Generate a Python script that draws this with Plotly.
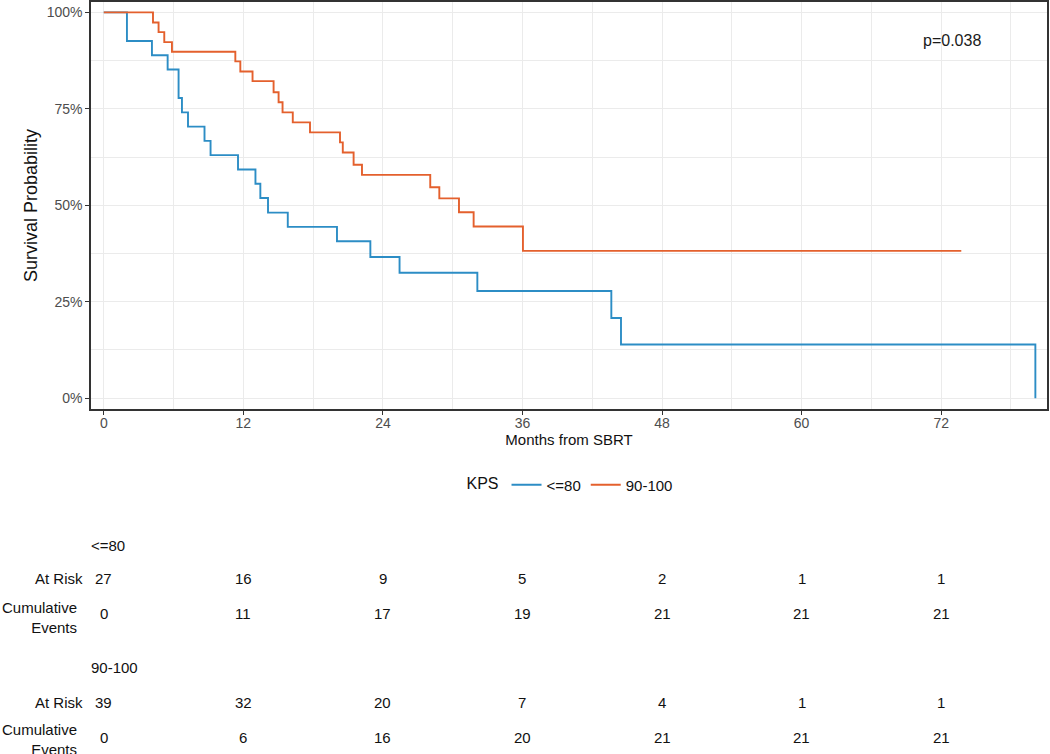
import plotly.graph_objects as go

# ---------------- data ----------------
groups = ["<=80", "90-100"]
legend_title = "KPS"

time_le80 = [0, 1.99, 4.14, 5.49, 6.43, 6.72, 7.24, 8.66, 9.18, 11.54, 13.04, 13.46,
             14.12, 15.82, 20.05, 22.92, 25.43, 32.12, 43.64, 44.47, 80.1]
surv_le80 = [1.0, 0.926, 0.889, 0.852, 0.778, 0.741, 0.704, 0.667, 0.630, 0.593, 0.556, 0.519,
             0.481, 0.444, 0.407, 0.366, 0.325, 0.278, 0.208, 0.139, 0.0]

time_90 = [0, 4.23, 4.71, 5.20, 5.86, 11.31, 11.74, 12.79, 14.60, 15.03, 15.37, 16.25,
           17.73, 20.31, 20.55, 21.48, 22.20, 28.07, 28.85, 30.54, 31.80, 36.04, 73.73]
surv_90 = [1.0, 0.974, 0.949, 0.923, 0.898, 0.873, 0.847, 0.822, 0.793, 0.767, 0.741, 0.715,
           0.689, 0.663, 0.637, 0.605, 0.579, 0.547, 0.518, 0.482, 0.445, 0.382, 0.382]

p_text = "p=0.038"

table_times = [0, 12, 24, 36, 48, 60, 72]
at_risk_le80 = [27, 16, 9, 5, 2, 1, 1]
cum_events_le80 = [0, 11, 17, 19, 21, 21, 21]
at_risk_90 = [39, 32, 20, 7, 4, 1, 1]
cum_events_90 = [0, 6, 16, 20, 21, 21, 21]

x_tickvals = [0, 12, 24, 36, 48, 60, 72]
y_tickvals = [0, 0.25, 0.5, 0.75, 1.0]

# ---------------- style ----------------
FONT = "Liberation Sans, Arial, sans-serif"
BLUE = "#2C8DC5"
ORANGE = "#E4602D"
W, H = 1050, 754
M_L, M_R, M_T, M_B = 91, 3, 2, 345
PLOT_H = H - M_T - M_B
PLOT_BOTTOM = M_T + PLOT_H


def py(pix):
    """pixel row -> paper y"""
    return (PLOT_BOTTOM - pix) / PLOT_H


def px(pix):
    """pixel column -> paper x"""
    return (pix - M_L) / (W - M_L - M_R)


fig = go.Figure()
fig.add_trace(go.Scatter(x=time_le80, y=surv_le80, mode="lines", name=groups[0],
                         line=dict(color=BLUE, width=1.9, shape="hv")))
fig.add_trace(go.Scatter(x=time_90, y=surv_90, mode="lines", name=groups[1],
                         line=dict(color=ORANGE, width=1.9, shape="hv")))

annotations = []
# p-value
annotations.append(dict(x=px(952), y=py(40), xref="paper", yref="paper", text=p_text,
                        showarrow=False, font=dict(family=FONT, size=16, color="#1a1a1a"),
                        xanchor="center", yanchor="middle"))


def table_block(label, label_y, risk_vals, ev_vals, risk_y, ev_label_y, ev_y):
    annotations.append(dict(x=px(89), y=py(label_y), xref="paper", yref="paper", text=label,
                            showarrow=False, font=dict(family=FONT, size=15, color="#111"),
                            xanchor="left", yanchor="middle"))
    annotations.append(dict(x=px(85), y=py(risk_y), xref="paper", yref="paper", text="At Risk",
                            showarrow=False, font=dict(family=FONT, size=15, color="#111"),
                            xanchor="right", yanchor="middle"))
    annotations.append(dict(x=px(79), y=py(ev_label_y), xref="paper", yref="paper",
                            text="Cumulative<br>Events", align="right",
                            showarrow=False, font=dict(family=FONT, size=15, color="#111"),
                            xanchor="right", yanchor="middle"))
    for t, r, e in zip(table_times, risk_vals, ev_vals):
        annotations.append(dict(x=t, y=py(risk_y), xref="x", yref="paper", text=str(r),
                                showarrow=False, font=dict(family=FONT, size=15, color="#111"),
                                xanchor="center", yanchor="middle"))
        annotations.append(dict(x=t, y=py(ev_y), xref="x", yref="paper", text=str(e),
                                showarrow=False, font=dict(family=FONT, size=15, color="#111"),
                                xanchor="center", yanchor="middle"))


table_block(groups[0], 545, at_risk_le80, cum_events_le80, 578, 617, 613)
table_block(groups[1], 667, at_risk_90, cum_events_90, 702, 739, 737)

axis_common = dict(
    showline=True, linecolor="#333333", linewidth=1.5, mirror=True,
    ticks="outside", ticklen=4, tickcolor="#333333", tickwidth=1,
    tickfont=dict(family=FONT, size=14, color="#4D4D4D"),
    showgrid=True, gridcolor="#EBEBEB", gridwidth=1.2, zeroline=False,
)

fig.update_layout(
    width=W, height=H,
    margin=dict(l=M_L, r=M_R, t=M_T, b=M_B, autoexpand=False),
    paper_bgcolor="white", plot_bgcolor="white",
    font=dict(family=FONT, color="#111"),
    showlegend=True,
    legend=dict(orientation="h", x=px(571), xanchor="center", y=py(485), yanchor="middle",
                title=dict(text=legend_title, font=dict(family=FONT, size=16, color="#111")),
                font=dict(family=FONT, size=15, color="#111"), itemwidth=30,
                bgcolor="rgba(0,0,0,0)"),
    annotations=annotations,
    xaxis=dict(range=[-1.1, 81.1], tickvals=x_tickvals, ticklabelstandoff=-4,
               title=dict(text="Months from SBRT", font=dict(family=FONT, size=15, color="#111"),
                          standoff=5),
               minor=dict(dtick=6, tick0=0, showgrid=True, gridcolor="#EBEBEB", gridwidth=0.7,
                          ticks=""),
               **axis_common),
    yaxis=dict(range=[-0.028, 1.027], tickvals=y_tickvals, tickformat=".0%",
               title=dict(text="Survival Probability", font=dict(family=FONT, size=18, color="#111"),
                          standoff=4),
               minor=dict(dtick=0.125, tick0=0, showgrid=True, gridcolor="#EBEBEB", gridwidth=0.7,
                          ticks=""),
               **axis_common),
)

fig.write_html(
    "out.html",
    config={"displayModeBar": False},
    post_script="document.documentElement.style.margin='0';document.body.style.margin='0';"
                "document.body.style.overflow='hidden';document.documentElement.style.overflow='hidden';",
)
